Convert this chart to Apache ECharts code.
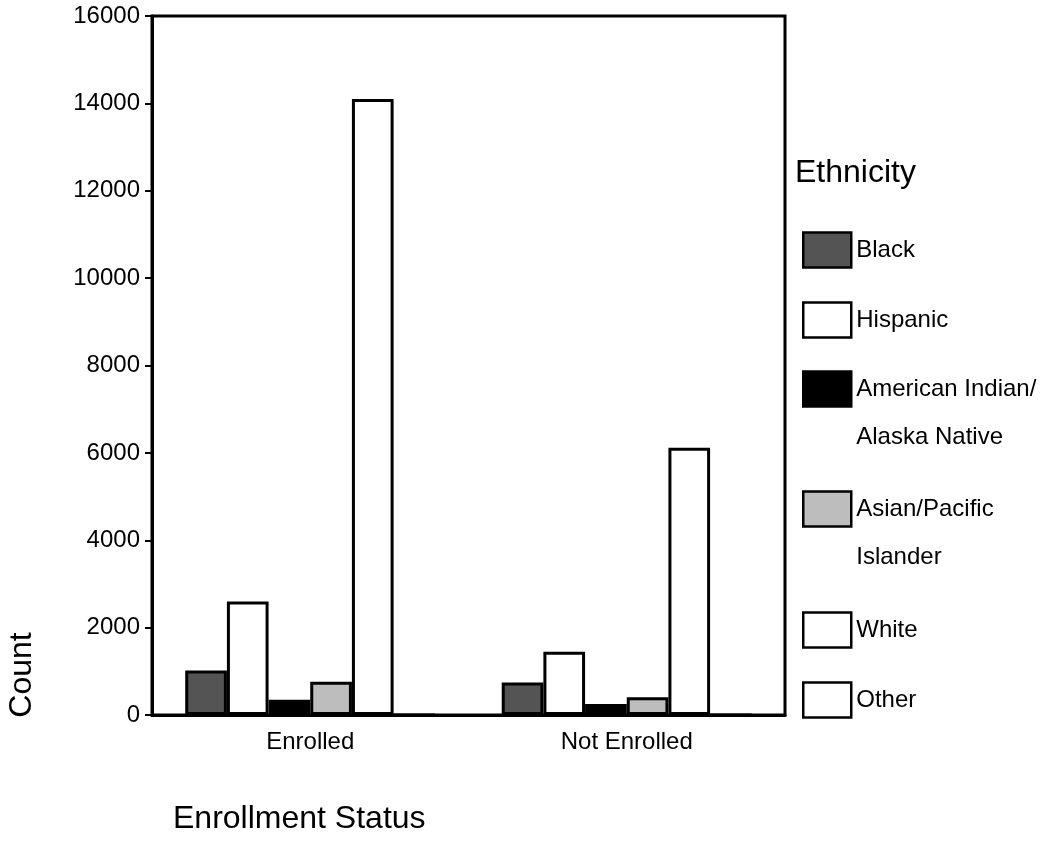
<!DOCTYPE html>
<html>
<head>
<meta charset="utf-8">
<script src="https://cdn.jsdelivr.net/npm/echarts@6/dist/echarts.min.js"></script>
<style>html,body{margin:0;padding:0;background:#fff}#c{width:1052px;height:841px}</style>
</head>
<body>
<div id="c"></div>
<script>
const categories = ['Enrolled', 'Not Enrolled'];
const seriesNames = ['Black', 'Hispanic', 'American Indian/Alaska Native', 'Asian/Pacific Islander', 'White', 'Other'];
const legendLabels = ['Black', 'Hispanic', 'American Indian/\nAlaska Native', 'Asian/Pacific\nIslander', 'White', 'Other'];
const blackValues = [1020, 745];
const hispanicValues = [2600, 1450];
const amIndValues = [350, 250];
const asianValues = [760, 405];
const whiteValues = [14100, 6120];
const otherValues = [0, 0];
const yTicks = [0, 2000, 4000, 6000, 8000, 10000, 12000, 14000, 16000];

const allValues = [blackValues, hispanicValues, amIndValues, asianValues, whiteValues, otherValues];
const fills = ['#545454', '#ffffff', '#000000', '#bdbdbd', '#ffffff', '#ffffff'];
const FONT = '"Liberation Sans", Arial, sans-serif';

const chart = echarts.init(document.getElementById('c'), null, {renderer: 'canvas'});

const legendCenters = [250, 320, 389, 509, 630, 700];
const legends = seriesNames.map((n, i) => {
  const two = legendLabels[i].indexOf('\n') >= 0;
  return {
    orient: 'vertical', left: 802, top: legendCenters[i] - (two ? 72 : 24),
    padding: 0, itemGap: 0, itemWidth: 48, itemHeight: 35, icon: 'rect',
    selectedMode: false, data: [n],
    // an empty first line keeps the icon level with the first text line
    formatter: () => (two ? '\n' : '') + legendLabels[i],
    itemStyle: {borderColor: '#000', borderWidth: 2.5},
    textStyle: {fontSize: 24, fontFamily: FONT, color: '#000', lineHeight: 48}
  };
});

chart.setOption({
  animation: false,
  backgroundColor: '#fff',
  title: {
    text: 'Ethnicity', left: 795, top: 157, padding: 0,
    textStyle: {fontSize: 32, fontWeight: 'normal', fontFamily: FONT, color: '#000'}
  },
  legend: legends,
  grid: {left: 152, right: 267, top: 16, bottom: 126, show: true, borderColor: '#000', borderWidth: 3, containLabel: false},
  xAxis: {
    type: 'category', data: categories,
    axisLine: {lineStyle: {color: '#000', width: 3}},
    axisTick: {alignWithLabel: true, length: 8, lineStyle: {color: '#000', width: 2}},
    axisLabel: {fontSize: 24, fontFamily: FONT, color: '#000', margin: 15}
  },
  yAxis: {
    type: 'value', min: yTicks[0], max: yTicks[yTicks.length - 1], interval: yTicks[1] - yTicks[0],
    axisLine: {show: true, lineStyle: {color: '#000', width: 3}},
    axisTick: {show: true, length: 7, lineStyle: {color: '#000', width: 2}},
    splitLine: {show: false},
    axisLabel: {fontSize: 24, fontFamily: FONT, color: '#000', margin: 12, formatter: v => String(v)}
  },
  graphic: [
    {type: 'text', x: 22, y: 675, rotation: Math.PI / 2,
     style: {text: 'Count', font: '32px ' + FONT, fill: '#000', align: 'center', verticalAlign: 'middle'}},
    {type: 'text', x: 173, y: 819,
     style: {text: 'Enrollment Status', font: '32px ' + FONT, fill: '#000', align: 'left', verticalAlign: 'middle'}}
  ],
  series: seriesNames.map((n, i) => ({
    name: n, type: 'bar', data: allValues[i],
    barGap: '0%', barCategoryGap: '21%',
    itemStyle: {color: fills[i], borderColor: '#000', borderWidth: 3}
  }))
});
</script>
</body>
</html>
